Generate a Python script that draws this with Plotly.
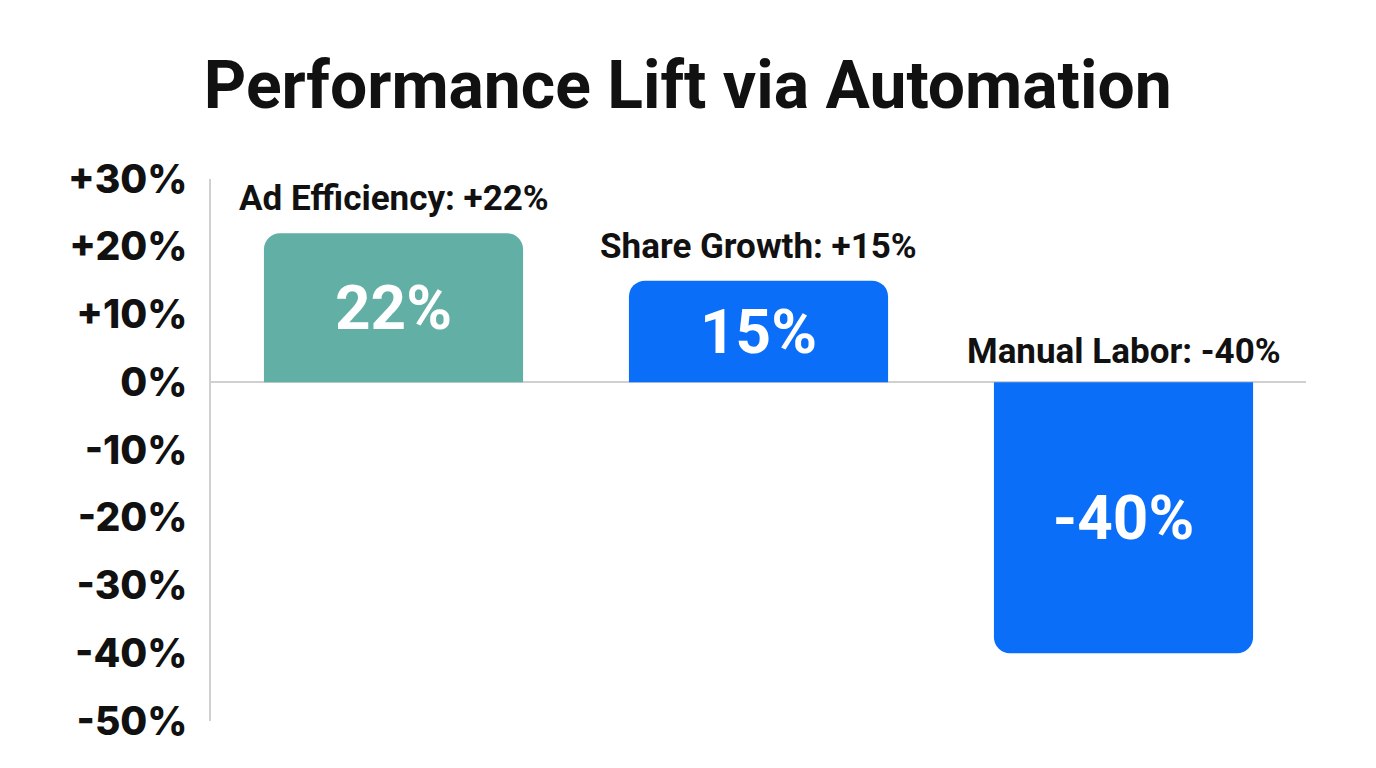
import plotly.graph_objects as go

categories = ["Ad Efficiency", "Share Growth", "Manual Labor"]
values = [22, 15, -40]
bar_colors = ["#62AFA5", "#0A6EF8", "#0A6EF8"]
inner_labels = ["22%", "15%", "-40%"]
top_labels = ["Ad Efficiency: +22%", "Share Growth: +15%", "Manual Labor: -40%"]
tick_vals = [30, 20, 10, 0, -10, -20, -30, -40, -50]
tick_text = ["+30%", "+20%", "+10%", "0%", "-10%", "-20%", "-30%", "-40%", "-50%"]

fig = go.Figure()
fig.add_trace(go.Bar(
    x=categories, y=values,
    marker=dict(color=bar_colors, cornerradius=16, line=dict(width=0)),
    text=inner_labels, textposition="inside", insidetextanchor="middle",
    textfont=dict(family="Roboto", size=62, color="white", weight="bold"),
    textangle=0,
    width=0.71,
    hoverinfo="skip",
))

for cat, v, lab in zip(categories, values, top_labels):
    fig.add_annotation(
        x=cat, y=max(v, 0), text=lab, showarrow=False,
        yanchor="bottom", yshift=12 if v > 0 else 8,
        font=dict(family="Roboto", size=35, color="#111111", weight="bold"),
    )

fig.update_layout(
    width=1376, height=768,
    paper_bgcolor="white", plot_bgcolor="white",
    margin=dict(l=203, r=78, t=171, b=55, autoexpand=False),
    title=dict(text="<b>Performance Lift via Automation</b>", x=0.494, xanchor="center",
               y=0.90, yanchor="middle",
               font=dict(family="Roboto", size=66, color="#111111")),
    showlegend=False,
    uniformtext=dict(mode=False),
)
fig.update_xaxes(showticklabels=False, showgrid=False, zeroline=False, showline=False,
                 ticks="", automargin=False)
fig.update_yaxes(range=[-50, 30], tickvals=tick_vals, ticktext=tick_text,
                 showgrid=False, zeroline=True, zerolinecolor="#D0D0D0", zerolinewidth=1.5,
                 showline=True, linecolor="#D0D0D0", linewidth=1.5,
                 ticks="", ticklabelstandoff=14, automargin=False,
                 tickfont=dict(family="Inter", size=39, color="#111111", weight=800))

fig.write_html("out.html")
